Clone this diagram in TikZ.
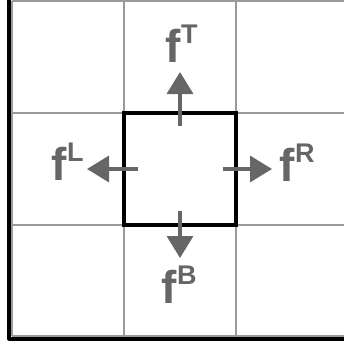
\documentclass[tikz,border=0pt]{standalone}
\usepackage{fontspec}
\setmainfont{Liberation Sans}
\usetikzlibrary{arrows.meta}
\definecolor{gridgrey}{HTML}{9A9A9A}
\definecolor{fluxgrey}{HTML}{666666}
% flux symbol with a raised index letter
\newcommand\fluxsym[1]{f\kern0.5pt\raisebox{19pt}{\fontsize{27}{27}\selectfont #1}}
\begin{document}
\begin{tikzpicture}[x=1pt,y=-1pt,
  gridline/.style={draw=gridgrey,line width=1.4pt},
  frame/.style={draw=black,line width=3.2pt},
  flux/.style={draw=fluxgrey,line width=3.4pt,
    -{Triangle[length=22pt,width=26pt]}},
  fluxlabel/.style={inner sep=0pt,anchor=base west,text=fluxgrey,
    font=\fontsize{46}{50}\selectfont\bfseries}]
\useasboundingbox (0,0) rectangle (344,349);
% background grid
\foreach \x in {12,124,236} \draw[gridline] (\x,1) -- (\x,336);
\foreach \y in {1,113,225,336} \draw[gridline] (12,\y) -- (350,\y);
% outer frame (left and bottom edges)
\draw[frame,line join=round] (9,-2) -- (9,339) -- (350,339);
% central cell
\node[frame,minimum width=112pt,minimum height=112pt,inner sep=0pt] (cell) at (180,169) {};
% arrow end points
\coordinate (tS) at (180,126); \coordinate (tE) at (180,72);
\coordinate (bS) at (180,211); \coordinate (bE) at (180,258);
\coordinate (lS) at (138,169); \coordinate (lE) at (87,169);
\coordinate (rS) at (223,169); \coordinate (rE) at (272,169);
\draw[flux] (tS) -- (tE);
\draw[flux] (bS) -- (bE);
\draw[flux] (lS) -- (lE);
\draw[flux] (rS) -- (rE);
% labels
\node[fluxlabel] (fT) at (165,62) {\fluxsym{T}};
\node[fluxlabel] (fL) at (51,180) {\fluxsym{L}};
\node[fluxlabel] (fR) at (279,181) {\fluxsym{R}};
\node[fluxlabel] (fB) at (161,303) {\fluxsym{B}};
\end{tikzpicture}
\end{document}
